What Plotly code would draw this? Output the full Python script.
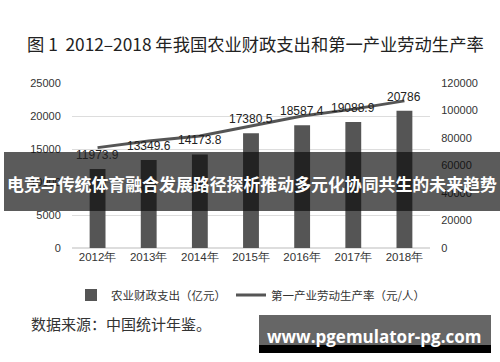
import plotly.graph_objects as go

years = ["2012年", "2013年", "2014年", "2015年", "2016年", "2017年", "2018年"]
spending = [11973.9, 13349.6, 14173.8, 17380.5, 18587.4, 19088.9, 20786]
spending_labels = ["11973.9", "13349.6", "14173.8", "17380.5", "18587.4", "19088.9", "20786"]
productivity = [73000, 77800, 81500, 88500, 96000, 101000, 107000]

left_ticks = [0, 5000, 10000, 15000, 20000, 25000]
left_ticktext = ["0", "5000", "10000", "15000", "20000", "25000"]
right_ticks = [0, 20000, 40000, 60000, 80000, 100000, 120000]
right_ticktext = ["0", "20000", "40000", "60000", "80000", "100000", "120000"]

FONT = "Noto Sans CJK SC"
NUM_FONT = "Liberation Sans"

fig = go.Figure()
fig.add_trace(go.Bar(
    x=years, y=spending, name="农业财政支出（亿元）",
    marker=dict(color="#555555", line=dict(width=0)), width=0.31,
))
fig.add_trace(go.Scatter(
    x=years, y=productivity, name="第一产业劳动生产率（元/人）",
    mode="lines", line=dict(color="#555555", width=3), yaxis="y2",
))

for yr, v, t in zip(years, spending, spending_labels):
    fig.add_annotation(x=yr, y=v, text=t, showarrow=False, yshift=14,
                       font=dict(family=NUM_FONT, size=12, color="#222222"))

fig.update_layout(
    width=500, height=362,
    margin=dict(l=72, r=70, t=83, b=114),
    paper_bgcolor="white", plot_bgcolor="white",
    showlegend=True,
    legend=dict(orientation="h", x=0.5, xanchor="center", y=-0.285, yanchor="middle",
                font=dict(family=FONT, size=11.5, color="#333333"),
                itemwidth=30, bgcolor="rgba(0,0,0,0)"),
    xaxis=dict(showgrid=False, showline=False, ticks="",
               tickfont=dict(family=NUM_FONT, size=11.5, color="#333333")),
    yaxis=dict(range=[0, 25000], tickvals=left_ticks, ticktext=left_ticktext,
               showgrid=True, gridcolor="#dddddd",
               gridwidth=1, zeroline=True, zerolinecolor="#dddddd", showline=False,
               tickfont=dict(family=NUM_FONT, size=11, color="#333333"),
               ticks="outside", ticklen=8, tickcolor="white"),
    yaxis2=dict(range=[0, 120000], tickvals=right_ticks, ticktext=right_ticktext,
                overlaying="y", side="right",
                showgrid=False, zeroline=False, showline=False,
                tickfont=dict(family=NUM_FONT, size=11, color="#333333"),
                ticks="outside", ticklen=8, tickcolor="white"),
    bargap=0.69,
)

fig.add_annotation(text="图 1  2012–2018 年我国农业财政支出和第一产业劳动生产率",
                   xref="paper", yref="paper", x=(25 - 72) / 358, y=(248 - 43) / 165,
                   showarrow=False, xanchor="left", yanchor="middle",
                   font=dict(family=FONT, size=17.3, color="#222222"))

fig.add_annotation(text="数据来源：中国统计年鉴。",
                   xref="paper", yref="paper", x=(29 - 72) / 358, y=(248 - 323) / 165,
                   showarrow=False, xanchor="left", yanchor="middle",
                   font=dict(family=FONT, size=15, color="#333333"))

# overlay banner
fig.add_shape(type="rect", xref="paper", yref="paper",
              x0=(4 - 72) / 358, x1=(500 - 72) / 358,
              y0=(248 - 211) / 165, y1=(248 - 152) / 165,
              fillcolor="rgba(10,10,10,0.67)", line=dict(width=0), layer="above")
fig.add_annotation(text="<b>电竞与传统体育融合发展路径探析推动多元化协同共生的未来趋势</b>",
                   xref="paper", yref="paper", x=(5 - 72) / 358, y=(248 - 183) / 165,
                   showarrow=False, xanchor="left", yanchor="middle",
                   font=dict(family=FONT, size=16.9, color="white"))

# watermark
fig.add_shape(type="rect", xref="paper", yref="paper",
              x0=(259 - 72) / 358, x1=(491 - 72) / 358,
              y0=(248 - 345) / 165, y1=(248 - 315) / 165,
              fillcolor="#666666", line=dict(width=0), layer="above")
fig.add_shape(type="rect", xref="paper", yref="paper",
              x0=(259 - 72) / 358, x1=(491 - 72) / 358,
              y0=(248 - 353) / 165, y1=(248 - 345) / 165,
              fillcolor="#000000", line=dict(width=0), layer="above")
fig.add_annotation(text="<b>www.pgemulator-pg.com</b>",
                   xref="paper", yref="paper", x=(374 - 72) / 358, y=(248 - 336) / 165,
                   showarrow=False, xanchor="center", yanchor="middle",
                   font=dict(family="Open Sans", size=17, color="white"))

fig.write_html("out.html",
               config={"displayModeBar": False},
               post_script="document.body.style.margin='0';document.body.style.padding='0';")
